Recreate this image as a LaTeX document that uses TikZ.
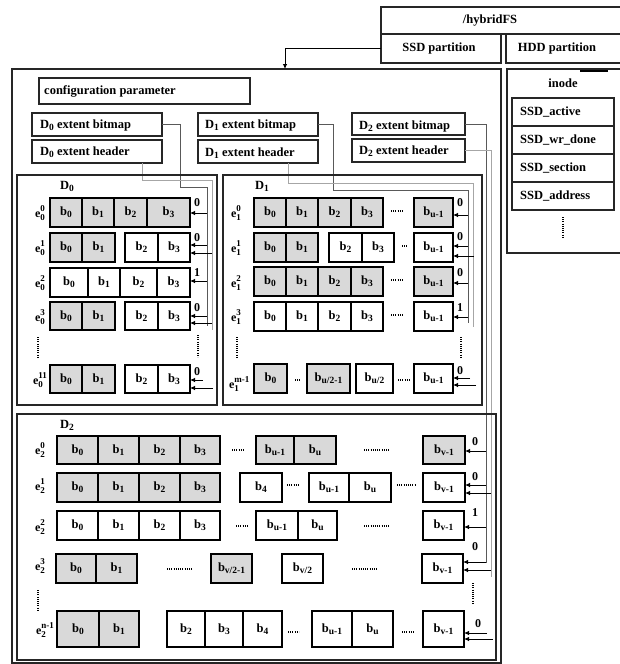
\documentclass[tikz,border=0pt]{standalone}
\usepackage{fontspec}
\setmainfont{Liberation Serif}
\usetikzlibrary{arrows.meta}
\newcommand\bsub[1]{\raisebox{-0.35ex}{\fontsize{9.5}{9.5}\selectfont #1}}
\newcommand\bb[1]{b\bsub{#1}}
\newcommand\elab[2]{e\makebox[0pt][l]{\raisebox{1.0ex}{\fontsize{9}{9}\selectfont #2}}\raisebox{-0.5ex}{\fontsize{9}{9}\selectfont #1}}
\newcommand\boxnode[6]{\node[#6,minimum width={(#3)-(#2)},minimum height={(#5)-(#4)}] (#1) at ({((#2)+(#3))/2},{((#4)+(#5))/2}) {};}
\newcommand\cell[7]{\node[cellbox,#7,minimum width={(#3)-(#2)},minimum height={(#5)-(#4)}] (#1) at ({((#2)+(#3))/2},{((#4)+(#5))/2}) {#6};}
\newcommand\harr[4]{\coordinate (#1) at (#2,#3); \draw[arr] (#1) -- (#1 -| #4.east);}
\begin{document}
\begin{tikzpicture}[x=1pt,y=-1pt,
  cellbox/.style={draw=black,line width=1.3pt,inner sep=0pt,outer sep=0pt,font=\bfseries\fontsize{12.5}{13}\selectfont},
  g/.style={fill=gray!30},
  w/.style={fill=white},
  frame/.style={draw=black!85,line width=1.2pt,inner sep=0pt,outer sep=0pt},
  txt/.style={inner sep=0pt,font=\bfseries\fontsize{12.5}{14}\selectfont},
  bit/.style={inner sep=0pt,font=\bfseries\fontsize{12}{13}\selectfont},
  arr/.style={draw=black,line width=0.8pt,-{Latex[length=5pt,width=4.5pt]}},
  bmline/.style={draw=black!65,line width=0.8pt},
  hdline/.style={draw=black!35,line width=0.8pt},
  dots/.style={draw=black,line width=1.2pt,dash pattern=on 0.8pt off 1.4pt},
]
\useasboundingbox (0,0) rectangle (620,664);
% ---------- top ----------
\boxnode{hyb}{381}{625}{7}{34}{frame}
\node[txt] (hybT) at (490,21) {/hybridFS};
\boxnode{ssd}{381}{501}{34}{63}{frame}
\node[txt] (ssdT) at (439,48.5) {SSD partition};
\boxnode{hdd}{506}{625}{34}{63}{frame}
\node[txt] (hddT) at (557,48.5) {HDD partition};
\boxnode{main}{12}{501}{69}{663}{frame}
\coordinate (mainIn) at (285,69);
\draw[arr] (ssd.west) -| (mainIn);
% ---------- inode ----------
\boxnode{inode}{507}{625}{69}{253}{frame}
\draw[line width=2pt] (580,71) -- (608,71);
\node[txt] (inodeT) at (563,83) {inode};
\boxnode{sa}{512}{614}{98}{126}{frame}
\node[txt,anchor=west] (saT) at (520,112) {SSD\_active};
\boxnode{sw}{512}{614}{126}{154}{frame}
\node[txt,anchor=west] (swT) at (520,140) {SSD\_wr\_done};
\boxnode{ss}{512}{614}{154}{182}{frame}
\node[txt,anchor=west] (ssT) at (520,168) {SSD\_section};
\boxnode{sd}{512}{614}{182}{210}{frame}
\node[txt,anchor=west] (sdT) at (520,196) {SSD\_address};
\draw[dots] (563,217) -- (563,238);
% ---------- config / bitmaps ----------
\boxnode{conf}{39}{250}{78}{104}{frame}
\node[txt,anchor=west] (confT) at (44,91) {configuration parameter};
\boxnode{D0bm}{32}{162}{113}{136}{frame}
\node[txt,anchor=west] (D0bmT) at (40,125) {D\bsub{0} extent bitmap};
\boxnode{D0hd}{32}{162}{140}{163}{frame}
\node[txt,anchor=west] (D0hdT) at (40,152) {D\bsub{0} extent header};
\boxnode{D1bm}{198}{318}{113}{136}{frame}
\node[txt,anchor=west] (D1bmT) at (205,125) {D\bsub{1} extent bitmap};
\boxnode{D1hd}{198}{318}{140}{163}{frame}
\node[txt,anchor=west] (D1hdT) at (205,153) {D\bsub{1} extent header};
\boxnode{D2bm}{352}{465}{113}{135}{frame}
\node[txt,anchor=west] (D2bmT) at (359,126) {D\bsub{2} extent bitmap};
\boxnode{D2hd}{352}{465}{139}{162}{frame}
\node[txt,anchor=west] (D2hdT) at (359,151) {D\bsub{2} extent header};
% ---------- connector lines ----------
\coordinate (v0b) at (207,326);
\coordinate (v0h) at (212,330);
\coordinate (k0b) at (180,187);
\coordinate (k0h) at (212,180);
\draw[bmline] (D0bm.east) -| (k0b) -| (v0b);
\draw[hdline] ([xshift=45pt]D0hd.south) |- (k0h) -- (v0h);
\coordinate (v1b) at (468,323);
\coordinate (v1h) at (473,327);
\coordinate (k1b) at (333,190);
\coordinate (k1h) at (473,183);
\draw[bmline] (D1bm.east) -| (k1b) -| (v1b);
\draw[hdline] ([xshift=30pt]D1hd.south) |- (k1h) -- (v1h);
\coordinate (v2b) at (486,563);
\coordinate (v2h) at (491,577);
\draw[bmline] (D2bm.east) -| (v2b);
\draw[hdline] (D2hd.east) -| (v2h);
% ---------- group frames ----------
\boxnode{D0}{17}{217}{175}{405}{frame}
\node[txt] (D0T) at (67,186) {D\bsub{0}};
\boxnode{D1}{223}{482}{175}{405}{frame}
\node[txt] (D1T) at (262,186) {D\bsub{1}};
\boxnode{D2}{17}{496}{414}{660}{frame}
\node[txt] (D2T) at (67,425) {D\bsub{2}};
% ---------- D0 rows ----------
\def\ta{198}\def\tb{227}
\cell{a00}{50}{82}{\ta}{\tb}{\bb0}{g}\cell{a01}{82}{114}{\ta}{\tb}{\bb1}{g}\cell{a02}{114}{147}{\ta}{\tb}{\bb2}{g}\cell{a03}{147}{190}{\ta}{\tb}{\bb3}{g}
\def\ta{233}\def\tb{262}
\cell{a10}{50}{82}{\ta}{\tb}{\bb0}{g}\cell{a11}{82}{115}{\ta}{\tb}{\bb1}{g}\cell{a12}{125}{158}{\ta}{\tb}{\bb2}{w}\cell{a13}{158}{190}{\ta}{\tb}{\bb3}{w}
\def\ta{268}\def\tb{297}
\cell{a20}{50}{88}{\ta}{\tb}{\bb0}{w}\cell{a21}{88}{120}{\ta}{\tb}{\bb1}{w}\cell{a22}{120}{157}{\ta}{\tb}{\bb2}{w}\cell{a23}{157}{190}{\ta}{\tb}{\bb3}{w}
\def\ta{302}\def\tb{330}
\cell{a30}{50}{82}{\ta}{\tb}{\bb0}{g}\cell{a31}{82}{115}{\ta}{\tb}{\bb1}{g}\cell{a32}{125}{158}{\ta}{\tb}{\bb2}{w}\cell{a33}{158}{190}{\ta}{\tb}{\bb3}{w}
\def\ta{365}\def\tb{393}
\cell{a40}{50}{82}{\ta}{\tb}{\bb0}{g}\cell{a41}{82}{115}{\ta}{\tb}{\bb1}{g}\cell{a42}{125}{158}{\ta}{\tb}{\bb2}{w}\cell{a43}{158}{190}{\ta}{\tb}{\bb3}{w}
\node[bit] (ea0) at (40,213) {\elab{0}{0}};
\node[bit] (ea1) at (40,248) {\elab{0}{1}};
\node[bit] (ea2) at (40,283) {\elab{0}{2}};
\node[bit] (ea3) at (40,317) {\elab{0}{3}};
\node[bit] (ea4) at (38,380) {\elab{0}{11}};
\node[bit] (la0) at (197,203) {0};
\node[bit] (la1) at (197,238) {0};
\node[bit] (la2) at (197,273) {1};
\node[bit] (la3) at (197,308) {0};
\node[bit] (la4) at (197,372) {0};
\harr{pa0}{207}{213}{a03}
\harr{pa1a}{207}{245}{a13}
\harr{pa1b}{212}{253}{a13}
\harr{pa2}{207}{281}{a23}
\harr{pa3a}{207}{316}{a33}
\harr{pa3b}{212}{323}{a33}
\harr{pa4a}{203}{380}{a43}
\harr{pa4b}{213}{388}{a43}
\draw[dots] (198,335) -- (198,357);
\draw[dots] (38,337) -- (38,357);
% ---------- D1 rows ----------
\def\ta{198}\def\tb{227}
\cell{b00}{254}{286}{\ta}{\tb}{\bb0}{g}\cell{b01}{286}{318}{\ta}{\tb}{\bb1}{g}\cell{b02}{318}{351}{\ta}{\tb}{\bb2}{g}\cell{b03}{351}{383}{\ta}{\tb}{\bb3}{g}\cell{b04}{414}{453}{\ta}{\tb}{\bb{u-1}}{g}
\draw[dots] (391,211) -- (403,211);
\def\ta{233}\def\tb{262}
\cell{b10}{254}{286}{\ta}{\tb}{\bb0}{g}\cell{b11}{286}{318}{\ta}{\tb}{\bb1}{g}\cell{b12}{329}{362}{\ta}{\tb}{\bb2}{w}\cell{b13}{362}{394}{\ta}{\tb}{\bb3}{w}\cell{b14}{414}{453}{\ta}{\tb}{\bb{u-1}}{w}
\draw[dots] (402,246) -- (408,246);
\def\ta{267}\def\tb{296}
\cell{b20}{254}{286}{\ta}{\tb}{\bb0}{g}\cell{b21}{286}{318}{\ta}{\tb}{\bb1}{g}\cell{b22}{318}{351}{\ta}{\tb}{\bb2}{g}\cell{b23}{351}{383}{\ta}{\tb}{\bb3}{g}\cell{b24}{414}{453}{\ta}{\tb}{\bb{u-1}}{g}
\draw[dots] (391,280) -- (403,280);
\def\ta{302}\def\tb{331}
\cell{b30}{254}{286}{\ta}{\tb}{\bb0}{w}\cell{b31}{286}{318}{\ta}{\tb}{\bb1}{w}\cell{b32}{318}{351}{\ta}{\tb}{\bb2}{w}\cell{b33}{351}{383}{\ta}{\tb}{\bb3}{w}\cell{b34}{414}{453}{\ta}{\tb}{\bb{u-1}}{w}
\draw[dots] (391,315) -- (403,315);
\def\ta{364}\def\tb{393}
\cell{b40}{254}{287}{\ta}{\tb}{\bb0}{g}\cell{b41}{307}{350}{\ta}{\tb}{\bb{u/2-1}}{g}\cell{b42}{356}{393}{\ta}{\tb}{\bb{u/2}}{w}\cell{b43}{414}{453}{\ta}{\tb}{\bb{u-1}}{w}
\draw[dots] (295,380) -- (301,380);
\draw[dots] (398,380) -- (411,380);
\node[bit] (eb0) at (236,213) {\elab{1}{0}};
\node[bit] (eb1) at (236,248) {\elab{1}{1}};
\node[bit] (eb2) at (236,283) {\elab{1}{2}};
\node[bit] (eb3) at (236,317) {\elab{1}{3}};
\node[bit] (eb4) at (234,384) {\elab{1}{m-1}};
\node[bit] (lb0) at (460,203) {0};
\node[bit] (lb1) at (460,237) {0};
\node[bit] (lb2) at (460,273) {0};
\node[bit] (lb3) at (460,308) {1};
\node[bit] (lb4) at (460,371) {0};
\harr{pb0}{468}{215}{b04}
\harr{pb1a}{468}{246}{b14}
\harr{pb1b}{474}{256}{b14}
\harr{pb2}{468}{283}{b24}
\harr{pb3}{468}{317}{b34}
\harr{pb4a}{470}{378}{b43}
\harr{pb4b}{476}{385}{b43}
\draw[dots] (461,337) -- (461,357);
\draw[dots] (237,337) -- (237,357);
% ---------- D2 rows ----------
\def\ta{436}\def\tb{464}
\cell{c00}{57}{98}{\ta}{\tb}{\bb0}{g}\cell{c01}{98}{139}{\ta}{\tb}{\bb1}{g}\cell{c02}{139}{180}{\ta}{\tb}{\bb2}{g}\cell{c03}{180}{220}{\ta}{\tb}{\bb3}{g}
\cell{c04}{256}{294}{\ta}{\tb}{\bb{u-1}}{g}\cell{c05}{294}{336}{\ta}{\tb}{\bb{u}}{g}\cell{c06}{423}{465}{\ta}{\tb}{\bb{v-1}}{g}
\draw[dots] (232,450) -- (244,450);
\draw[dots] (364,450) -- (390,450);
\def\ta{473}\def\tb{502}
\cell{c10}{57}{98}{\ta}{\tb}{\bb0}{g}\cell{c11}{98}{139}{\ta}{\tb}{\bb1}{g}\cell{c12}{139}{180}{\ta}{\tb}{\bb2}{g}\cell{c13}{180}{220}{\ta}{\tb}{\bb3}{g}
\cell{c14}{240}{282}{\ta}{\tb}{\bb4}{w}\cell{c15}{309}{349}{\ta}{\tb}{\bb{u-1}}{w}\cell{c16}{349}{391}{\ta}{\tb}{\bb{u}}{w}\cell{c17}{423}{465}{\ta}{\tb}{\bb{v-1}}{w}
\draw[dots] (287,485) -- (299,485);
\draw[dots] (397,485) -- (416,485);
\def\ta{511}\def\tb{540}
\cell{c20}{57}{98}{\ta}{\tb}{\bb0}{w}\cell{c21}{98}{139}{\ta}{\tb}{\bb1}{w}\cell{c22}{139}{180}{\ta}{\tb}{\bb2}{w}\cell{c23}{180}{220}{\ta}{\tb}{\bb3}{w}
\cell{c24}{256}{298}{\ta}{\tb}{\bb{u-1}}{w}\cell{c25}{298}{337}{\ta}{\tb}{\bb{u}}{w}\cell{c26}{423}{464}{\ta}{\tb}{\bb{v-1}}{w}
\draw[dots] (236,526) -- (248,526);
\draw[dots] (364,526) -- (390,526);
\def\ta{554}\def\tb{583}
\cell{c30}{56}{96}{\ta}{\tb}{\bb0}{g}\cell{c31}{96}{137}{\ta}{\tb}{\bb1}{g}
\cell{c32}{211}{252}{\ta}{\tb}{\bb{v/2-1}}{g}\cell{c33}{282}{323}{\ta}{\tb}{\bb{v/2}}{w}\cell{c34}{422}{463}{\ta}{\tb}{\bb{v-1}}{w}
\draw[dots] (167,569) -- (193,569);
\draw[dots] (352,569) -- (378,569);
\def\ta{611}\def\tb{647}
\cell{c40}{57}{99}{\ta}{\tb}{\bb0}{g}\cell{c41}{99}{139}{\ta}{\tb}{\bb1}{g}
\cell{c42}{167}{205}{\ta}{\tb}{\bb2}{w}\cell{c43}{205}{243}{\ta}{\tb}{\bb3}{w}\cell{c44}{243}{282}{\ta}{\tb}{\bb4}{w}
\cell{c45}{312}{352}{\ta}{\tb}{\bb{u-1}}{w}\cell{c46}{352}{393}{\ta}{\tb}{\bb{u}}{w}\cell{c47}{423}{464}{\ta}{\tb}{\bb{v-1}}{w}
\draw[dots] (288,632) -- (299,632);
\draw[dots] (402,632) -- (415,632);
\node[bit] (ec0) at (40,450) {\elab{2}{0}};
\node[bit] (ec1) at (40,486) {\elab{2}{1}};
\node[bit] (ec2) at (40,527) {\elab{2}{2}};
\node[bit] (ec3) at (40,566) {\elab{2}{3}};
\node[bit] (ec4) at (41,630) {\elab{2}{n-1}};
\node[bit] (lc0) at (475,442) {0};
\node[bit] (lc1) at (475,477) {0};
\node[bit] (lc2) at (475,513) {1};
\node[bit] (lc3) at (475,547) {0};
\node[bit] (lc4) at (478,624) {0};
\harr{pc0}{486}{451}{c06}
\harr{pc1a}{486}{485}{c17}
\harr{pc1b}{491}{493}{c17}
\harr{pc2}{486}{527}{c26}
\harr{pc3a}{486}{562}{c34}
\harr{pc3b}{491}{570}{c34}
\harr{pc4a}{487}{633}{c47}
\harr{pc4b}{493}{639}{c47}
\draw[dots] (473,583) -- (473,603);
\draw[dots] (38,590) -- (38,611);
\end{tikzpicture}
\end{document}
